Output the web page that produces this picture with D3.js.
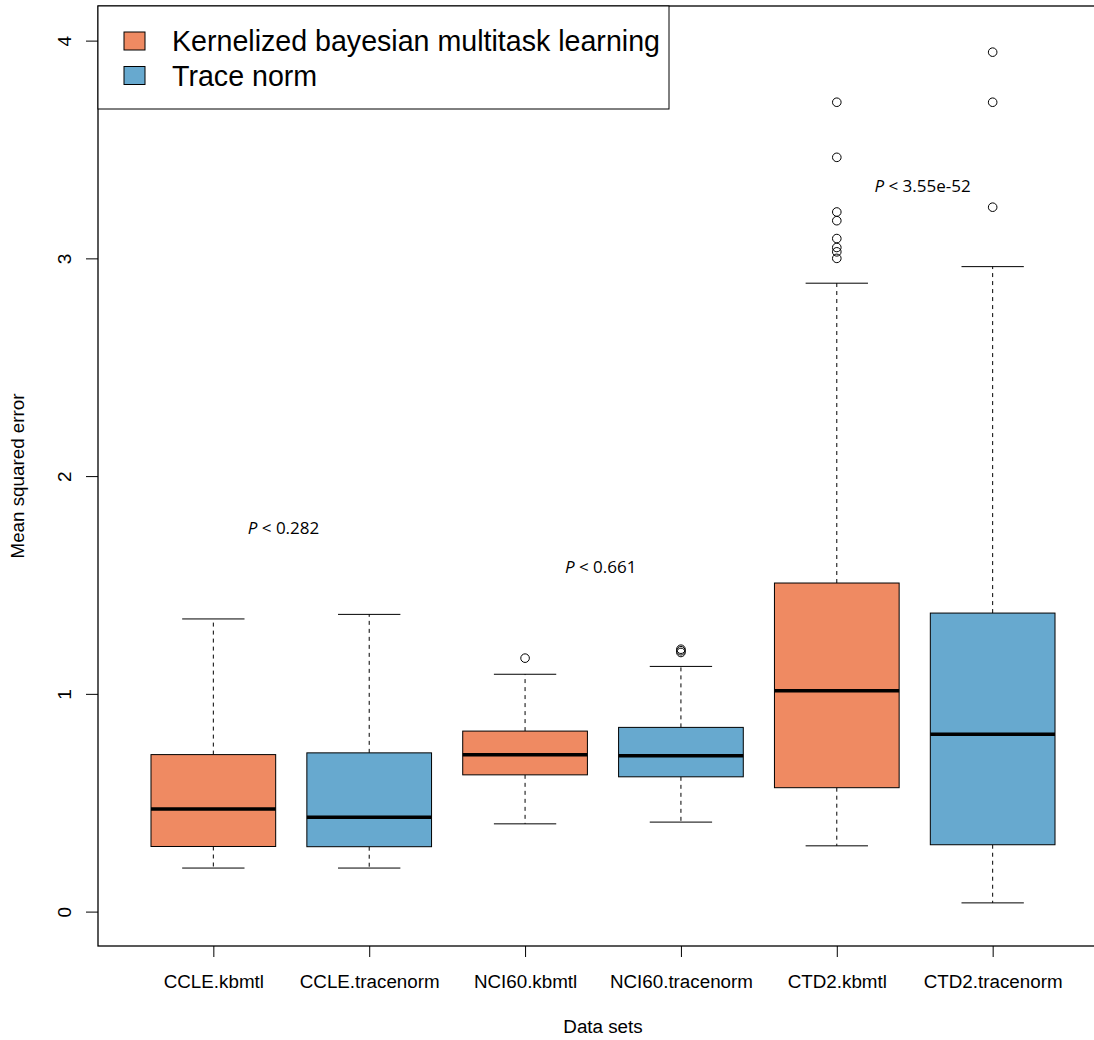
<!DOCTYPE html>
<html>
<head>
<meta charset="utf-8">
<script src="https://cdn.jsdelivr.net/npm/d3@7"></script>
<style>
  html, body { margin: 0; padding: 0; background: #ffffff; }
  svg { display: block; }
  text { font-family: "Liberation Sans", Arial, Helvetica, sans-serif; fill: #000; }
</style>
</head>
<body>
<svg id="chart" width="1094" height="1040"></svg>
<script>
// Per-data-set box statistics (mean squared error)
const categories   = ["CCLE.kbmtl", "CCLE.tracenorm", "NCI60.kbmtl", "NCI60.tracenorm", "CTD2.kbmtl", "CTD2.tracenorm"];
const methods      = ["kbmtl", "tracenorm", "kbmtl", "tracenorm", "kbmtl", "tracenorm"];
const whiskerLow   = [0.200, 0.200, 0.403, 0.411, 0.302, 0.040];
const q1           = [0.299, 0.298, 0.628, 0.619, 0.569, 0.307];
const medians      = [0.471, 0.433, 0.720, 0.716, 1.014, 0.814];
const q3           = [0.721, 0.729, 0.829, 0.846, 1.509, 1.371];
const whiskerHigh  = [1.344, 1.365, 1.090, 1.126, 2.886, 2.962];
const outliers     = [
  [],
  [],
  [1.164],
  [1.205, 1.198, 1.190],
  [3.717, 3.464, 3.213, 3.173, 3.091, 3.050, 3.030, 3.000],
  [3.947, 3.717, 3.235]
];
const yTicks       = [0, 1, 2, 3, 4];

// Paired test annotations
const pLabels      = ["0.282", "0.661", "3.55e-52"];
const pX           = [1.45, 3.485, 5.55];
const pY           = [1.764, 1.585, 3.333];

// Legend
const legendLabels = ["Kernelized bayesian multitask learning", "Trace norm"];
const legendKeys   = ["kbmtl", "tracenorm"];

const colors = { kbmtl: "#EF8A62", tracenorm: "#67A9CF" };

const svg = d3.select("#chart");

const plot = { left: 98, right: 1108, top: 6, bottom: 946 };

const x = d3.scaleLinear().domain([0.26, 6.74]).range([plot.left, plot.right]);
const y = d3.scaleLinear().domain([-0.158, 4.159]).range([plot.bottom, plot.top]);

const boxW = x(1.4) - x(1);       // half width of a box
const capW = boxW / 2;            // half width of a whisker cap

const data = categories.map((c, i) => ({
  name: c, pos: i + 1, method: methods[i],
  lo: whiskerLow[i], q1: q1[i], med: medians[i], q3: q3[i], hi: whiskerHigh[i],
  out: outliers[i]
}));

const g = svg.append("g");

const box = g.selectAll("g.box").data(data).join("g").attr("class", "box");

// dashed whiskers
box.append("line")
  .attr("x1", d => x(d.pos)).attr("x2", d => x(d.pos))
  .attr("y1", d => y(d.q3)).attr("y2", d => y(d.hi))
  .attr("stroke", "#000").attr("stroke-width", 1).attr("stroke-dasharray", "4,4");
box.append("line")
  .attr("x1", d => x(d.pos)).attr("x2", d => x(d.pos))
  .attr("y1", d => y(d.q1)).attr("y2", d => y(d.lo))
  .attr("stroke", "#000").attr("stroke-width", 1).attr("stroke-dasharray", "4,4");

// whisker caps
box.append("line")
  .attr("x1", d => x(d.pos) - capW).attr("x2", d => x(d.pos) + capW)
  .attr("y1", d => y(d.hi)).attr("y2", d => y(d.hi))
  .attr("stroke", "#000").attr("stroke-width", 1);
box.append("line")
  .attr("x1", d => x(d.pos) - capW).attr("x2", d => x(d.pos) + capW)
  .attr("y1", d => y(d.lo)).attr("y2", d => y(d.lo))
  .attr("stroke", "#000").attr("stroke-width", 1);

// boxes
box.append("rect")
  .attr("x", d => x(d.pos) - boxW)
  .attr("width", 2 * boxW)
  .attr("y", d => y(d.q3))
  .attr("height", d => y(d.q1) - y(d.q3))
  .attr("fill", d => colors[d.method])
  .attr("stroke", "#000").attr("stroke-width", 1);

// medians
box.append("line")
  .attr("x1", d => x(d.pos) - boxW).attr("x2", d => x(d.pos) + boxW)
  .attr("y1", d => y(d.med)).attr("y2", d => y(d.med))
  .attr("stroke", "#000").attr("stroke-width", 3.5);

// outliers
box.selectAll("circle")
  .data(d => d.out.map(v => ({ pos: d.pos, v })))
  .join("circle")
  .attr("cx", d => x(d.pos)).attr("cy", d => y(d.v))
  .attr("r", 4.3)
  .attr("fill", "none").attr("stroke", "#000").attr("stroke-width", 1);

// plot frame
svg.append("rect")
  .attr("x", plot.left).attr("y", plot.top)
  .attr("width", plot.right - plot.left).attr("height", plot.bottom - plot.top)
  .attr("fill", "none").attr("stroke", "#000").attr("stroke-width", 1.3);

// y axis
const yAxis = d3.axisLeft(y).tickValues(yTicks).tickSize(12).tickFormat(d3.format("d"));
const ya = svg.append("g").attr("transform", `translate(${plot.left},0)`).call(yAxis);
ya.select(".domain").remove();
ya.selectAll(".tick line").attr("stroke", "#000");
ya.selectAll(".tick text")
  .attr("x", null).attr("dy", null)
  .attr("transform", "translate(-27.3,0) rotate(-90)")
  .attr("text-anchor", "middle")
  .style("font-family", "'Liberation Sans', Arial, sans-serif")
  .style("font-size", "19px").attr("fill", "#000");

// x axis
const xAxis = d3.axisBottom(x).tickValues(data.map(d => d.pos)).tickSize(11)
  .tickFormat((d, i) => categories[i]);
const xa = svg.append("g").attr("transform", `translate(0,${plot.bottom})`).call(xAxis);
xa.select(".domain").remove();
xa.selectAll(".tick line").attr("stroke", "#000");
xa.selectAll(".tick text")
  .attr("y", 42).attr("dy", null)
  .style("font-family", "'Liberation Sans', Arial, sans-serif")
  .style("font-size", "18.8px").attr("fill", "#000");

// axis titles
svg.append("text")
  .attr("x", (plot.left + plot.right) / 2).attr("y", 1033)
  .attr("text-anchor", "middle").style("font-size", "18.8px")
  .text("Data sets");
svg.append("text")
  .attr("transform", `translate(23.5,${(plot.top + plot.bottom) / 2}) rotate(-90)`)
  .attr("text-anchor", "middle").style("font-size", "18.8px")
  .text("Mean squared error");

// p-value annotations
const ann = svg.append("g").selectAll("text").data(pLabels).join("text")
  .attr("x", (d, i) => x(pX[i]))
  .attr("y", (d, i) => y(pY[i]) + 6.3)
  .attr("text-anchor", "middle")
  .style("font-family", "'Open Sans', 'Noto Sans', sans-serif")
  .style("font-size", "17px");
ann.append("tspan").style("font-style", "italic").text("P");
ann.append("tspan").text(d => " < " + d);

// legend
const lg = svg.append("g");
lg.append("rect")
  .attr("x", plot.left).attr("y", plot.top)
  .attr("width", 669 - plot.left).attr("height", 109 - plot.top)
  .attr("fill", "#fff").attr("stroke", "#000").attr("stroke-width", 1);
const items = lg.selectAll("g.item").data(legendLabels).join("g").attr("class", "item")
  .attr("transform", (d, i) => `translate(0,${i * 34.5})`);
items.append("rect")
  .attr("x", 124).attr("y", 32).attr("width", 21).attr("height", 18)
  .attr("fill", (d, i) => colors[legendKeys[i]])
  .attr("stroke", "#000").attr("stroke-width", 1);
items.append("text")
  .attr("x", 172).attr("y", 51)
  .style("font-size", "28.6px")
  .text(d => d);
</script>
</body>
</html>
